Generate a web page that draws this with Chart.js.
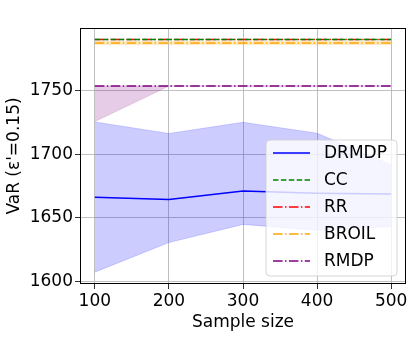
<!DOCTYPE html>
<html>
<head>
<meta charset="utf-8">
<script src="https://cdn.jsdelivr.net/npm/chart.js@4/dist/chart.umd.min.js"></script>
<style>
  html, body { margin: 0; padding: 0; background: #fff; }
  #wrap { width: 415px; height: 337px; }
</style>
</head>
<body>
<div id="wrap"><canvas id="chart" width="415" height="337"></canvas></div>
<script>
// values
const sampleSizes = [100, 200, 300, 400, 500];
const yTicks = [1600, 1650, 1700, 1750];

const drmdpMean  = [1666.2, 1664.3, 1671.0, 1669.3, 1668.7];
const drmdpUpper = [1725.2, 1716.2, 1725.0, 1716.4, 1691.6];
const drmdpLower = [1607.3, 1630.5, 1644.8, 1640.1, 1643.2];

const ccVals = [1790.0, 1790.0, 1790.0, 1790.0, 1790.0];
const rrVals = [1790.0, 1790.0, 1790.0, 1790.0, 1790.0];

const broilVals  = [1787.2, 1787.2, 1787.2, 1787.2, 1787.2];
const broilUpper = [1788.4, 1788.4, 1788.4, 1788.4, 1788.4];
const broilLower = [1786.0, 1786.0, 1786.0, 1786.0, 1786.0];

const rmdpVals  = [1753.4, 1753.4, 1753.4, 1753.4, 1753.4];
const rmdpLower = [1725.5, 1753.4, 1753.4, 1753.4, 1753.4];

const FONT = 'DejaVu Sans';

function pts(vals) {
  return sampleSizes.map((x, i) => ({ x: x, y: vals[i] }));
}

const DASHED = [5.5, 2.4];
const DASHDOT = [9.6, 2.4, 1.5, 2.4];

function band(vals, color, fillTarget) {
  return {
    label: '', data: pts(vals), borderColor: color, borderWidth: 0.8,
    backgroundColor: color, fill: fillTarget, pointRadius: 0, band: true
  };
}
function line(label, vals, color, dash) {
  return {
    label: label, data: pts(vals), borderColor: color, borderWidth: 1.5,
    borderDash: dash, fill: false, pointRadius: 0, backgroundColor: color
  };
}

const datasets = [
  band(drmdpUpper, 'rgba(0,0,255,0.2)', '+1'),
  band(drmdpLower, 'rgba(0,0,255,0.2)', false),
  band(broilUpper, 'rgba(255,165,0,0.2)', '+1'),
  band(broilLower, 'rgba(255,165,0,0.2)', false),
  band(rmdpVals, 'rgba(128,0,128,0.2)', '+1'),
  band(rmdpLower, 'rgba(128,0,128,0.2)', false),
  line('DRMDP', drmdpMean, '#0000ff', []),
  line('CC', ccVals, '#008000', DASHED),
  line('RR', rrVals, '#ff0000', DASHDOT),
  line('BROIL', broilVals, '#ffa500', DASHDOT),
  line('RMDP', rmdpVals, '#800080', DASHDOT)
];

// legend drawn inside the plot, like matplotlib's
const legendBox = {
  id: 'legendBox',
  afterDraw(chart) {
    const ctx = chart.ctx;
    const x0 = 266, y0 = 140, w = 131, h = 136;
    ctx.save();
    ctx.beginPath();
    ctx.roundRect(x0, y0, w, h, 4);
    ctx.fillStyle = 'rgba(255,255,255,0.8)';
    ctx.fill();
    ctx.strokeStyle = 'rgba(204,204,204,0.8)';
    ctx.lineWidth = 1;
    ctx.stroke();
    const items = chart.data.datasets.filter(d => !d.band);
    items.forEach((d, i) => {
      const y = y0 + 13 + i * 27;
      ctx.beginPath();
      ctx.setLineDash(d.borderDash || []);
      ctx.strokeStyle = d.borderColor;
      ctx.lineWidth = 1.5;
      ctx.moveTo(273, y);
      ctx.lineTo(310, y);
      ctx.stroke();
      ctx.setLineDash([]);
      ctx.fillStyle = '#000';
      ctx.font = '17px "' + FONT + '"';
      ctx.textBaseline = 'middle';
      ctx.fillText(d.label, 324, y + 1);
    });
    ctx.restore();
  }
};

// black frame round the axes
const frame = {
  id: 'frame',
  afterDatasetsDraw(chart) {
    const a = chart.chartArea, ctx = chart.ctx;
    ctx.save();
    ctx.strokeStyle = '#000';
    ctx.lineWidth = 1;
    ctx.strokeRect(a.left + 0.5, a.top + 0.5, a.right - a.left - 1, a.bottom - a.top - 1);
    ctx.restore();
  }
};

new Chart(document.getElementById('chart'), {
  type: 'line',
  data: { datasets: datasets },
  plugins: [frame, legendBox],
  options: {
    responsive: false,
    animation: false,
    layout: { padding: { top: 28, right: 9, left: 0, bottom: 0 } },
    plugins: { legend: { display: false }, tooltip: { enabled: false } },
    scales: {
      x: {
        type: 'linear', min: 80, max: 520,
        afterBuildTicks: s => { s.ticks = sampleSizes.map(v => ({ value: v })); },
        afterFit: s => { s.height = 53; },
        grid: { color: '#b0b0b0', lineWidth: 0.8, tickLength: 5, tickColor: '#000', drawTicks: true },
        border: { display: false },
        ticks: { color: '#000', font: { family: FONT, size: 17 }, padding: 2, maxRotation: 0, callback: v => String(v) },
        title: { display: true, text: 'Sample size', color: '#000', font: { family: FONT, size: 17 }, padding: { top: 0 } }
      },
      y: {
        type: 'linear', min: 1598, max: 1799,
        afterBuildTicks: s => { s.ticks = yTicks.map(v => ({ value: v })); },
        afterFit: s => { s.width = 80; },
        grid: { color: '#b0b0b0', lineWidth: 0.8, tickLength: 5, tickColor: '#000' },
        border: { display: false },
        ticks: { color: '#000', font: { family: FONT, size: 17 }, padding: 2, callback: v => String(v) },
        title: { display: true, text: "VaR (ε'=0.15)", color: '#000', font: { family: FONT, size: 17 }, padding: { bottom: 2 } }
      }
    }
  }
});
</script>
</body>
</html>
